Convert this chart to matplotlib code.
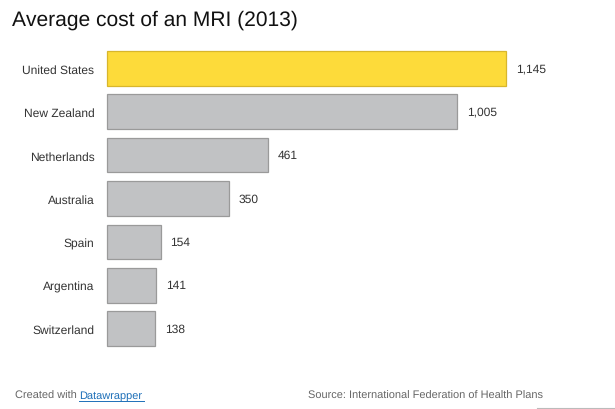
import matplotlib.pyplot as plt
from matplotlib.lines import Line2D

plt.rcParams['font.family'] = ['Liberation Sans', 'DejaVu Sans']
plt.rcParams['text.hinting'] = 'no_hinting'
plt.rcParams['text.hinting_factor'] = 1

# Daten
countries = ["United States", "New Zealand", "Netherlands", "Australia",
             "Spain", "Argentina", "Switzerland"]
cost = [1145, 1005, 461, 350, 154, 141, 138]
highlight = "United States"

fig = plt.figure(figsize=(6.15, 4.1), dpi=100)
ax = fig.add_axes([107 / 615, 63 / 410, 399 / 615, 295 / 410])

cores = ['#fddb3a' if c == highlight else '#c1c2c4' for c in countries]
bordas = ['#d8b62c' if c == highlight else '#9a9a9a' for c in countries]
pos = list(range(len(countries)))
barras = ax.barh(pos, cost, height=0.8, color=cores, edgecolor=bordas,
                 linewidth=0.9)
for b in barras:
    b.set_clip_on(False)

for p, v in zip(pos, cost):
    ax.annotate(f"{v:,}", (v, p), xytext=(7, 0), textcoords='offset points',
                va='center', ha='left', fontsize=8.5, color='#333333',
                annotation_clip=False)

ax.set_xlim(0, 1145)
ax.set_ylim(len(countries) - 0.6, -0.4)
ax.set_yticks(pos)
ax.set_yticklabels(countries, fontsize=8.8, color='#333333')
ax.tick_params(axis='y', length=0, pad=9)
ax.set_xticks([])
for s in ax.spines.values():
    s.set_visible(False)

fig.text(12 / 615, 1 - 20 / 410, "Average cost of an MRI (2013)",
         fontsize=15.2, color='#111111', va='center', ha='left')

fig.text(15 / 615, 1 - 396 / 410, "Created with", fontsize=7.8,
         color='#666666', va='center', ha='left')
fig.text(79 / 615, 1 - 396 / 410, "Datawrapper", fontsize=7.8,
         color='#1d6fb8', va='center', ha='left')
fig.add_artist(Line2D([79 / 615, 144 / 615], [1 - 401.5 / 410, 1 - 401.5 / 410],
                      color='#1d6fb8', linewidth=0.7))
fig.text(308 / 615, 1 - 396 / 410,
         "Source: International Federation of Health Plans", fontsize=7.7,
         color='#666666', va='center', ha='left')
fig.add_artist(Line2D([537 / 615, 1.0], [1 - 408.5 / 410, 1 - 408.5 / 410],
                      color='#bbbbbb', linewidth=0.8))

fig.savefig("out.png", dpi=100)
